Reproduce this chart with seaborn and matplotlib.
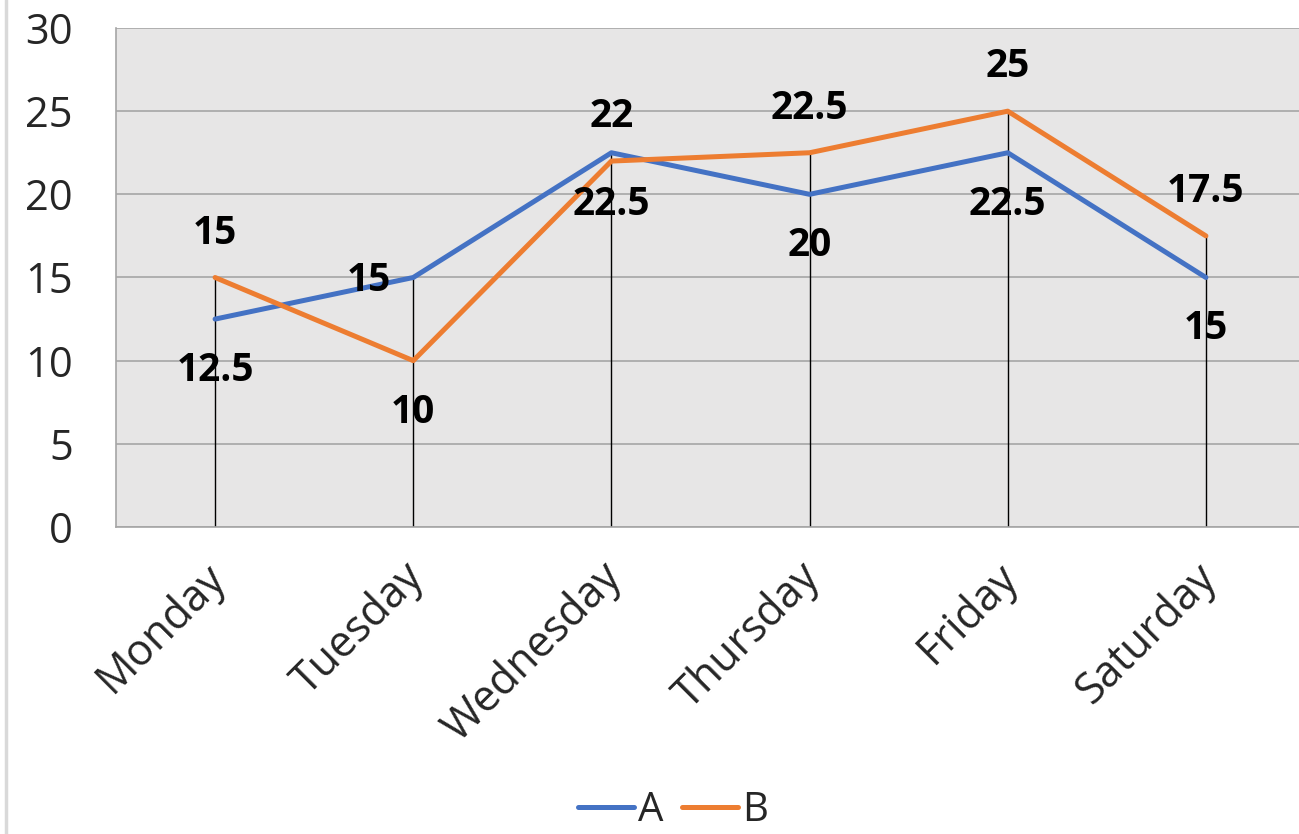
import matplotlib
matplotlib.use("Agg")
import matplotlib.pyplot as plt
import matplotlib.transforms as mtransforms
from matplotlib.lines import Line2D
import seaborn as sns
import pandas as pd

days = ["Monday", "Tuesday", "Wednesday", "Thursday", "Friday", "Saturday"]
series_a = [12.5, 15, 22.5, 20, 22.5, 15]
series_b = [15, 10, 22, 22.5, 25, 17.5]
label_a = ["12.5", "15", "22.5", "20", "22.5", "15"]
label_b = ["15", "10", "22", "22.5", "25", "17.5"]
y_ticks = [0, 5, 10, 15, 20, 25, 30]

# label placement styles
pos_a = ["below", "left", "below", "below", "below", "below"]
pos_b = ["above", "below", "above", "above", "above", "above"]

sns.set_style("white")
plt.rcParams["font.family"] = ["Open Sans", "DejaVu Sans"]

df = pd.DataFrame({
    "day": days * 2,
    "x": list(range(len(days))) * 2,
    "value": series_a + series_b,
    "series": ["A"] * len(days) + ["B"] * len(days),
})

W, H = 1299, 834
fig = plt.figure(figsize=(W / 100, H / 100), dpi=100)
ax = fig.add_axes([116 / W, 1 - 527 / H, (1305 - 116) / W, (527 - 28) / H])
ax.set_facecolor("#e7e6e6")

palette = {"A": "#4472C4", "B": "#ED7D31"}
sns.lineplot(data=df, x="x", y="value", hue="series", palette=palette,
             linewidth=3.6, ax=ax, legend=False, zorder=3,
             solid_capstyle="round", solid_joinstyle="round")

# drop lines (high lines) from 0 to max
for i in range(len(days)):
    ax.plot([i, i], [0, max(series_a[i], series_b[i])], color="black",
            linewidth=1.0, zorder=2)

ax.set_xlim(-0.5, len(days) - 0.5)
ax.set_ylim(0, 30)
ax.set_yticks(y_ticks)
ax.set_yticklabels([str(v) for v in y_ticks], fontsize=30)
ax.set_xticks(range(len(days)))
ax.set_xticklabels(days, fontsize=31, rotation=45, ha="right",
                   rotation_mode="anchor")
ax.tick_params(axis="x", length=0, pad=20)
shift = mtransforms.ScaledTranslation(-12 / 100, 0, fig.dpi_scale_trans)
for lbl in ax.get_xticklabels():
    lbl.set_transform(lbl.get_transform() + shift)
ax.tick_params(axis="y", length=12, width=1.2, color="#a6a6a6", pad=19)
ax.grid(axis="y", color="#a6a6a6", linewidth=1.2, zorder=1)
ax.grid(axis="x", visible=False)
ax.set_axisbelow(True)
ax.set_xlabel("")
ax.set_ylabel("")
for side in ["top", "right"]:
    ax.spines[side].set_visible(False)
ax.spines["left"].set_color("#a6a6a6")
ax.spines["left"].set_linewidth(1.2)
ax.spines["bottom"].set_color("#a6a6a6")
ax.spines["bottom"].set_linewidth(1.2)

offsets = {"below": (0, -37), "above": (0, 32), "left": (-32, -2)}
for vals, labs, poss in [(series_a, label_a, pos_a), (series_b, label_b, pos_b)]:
    for i, (v, t, p) in enumerate(zip(vals, labs, poss)):
        ax.annotate(t, (i, v), xytext=offsets[p], textcoords="offset points",
                    ha="center", va="center", fontsize=28, fontweight="bold",
                    color="black", zorder=5)

handles = [Line2D([0], [0], color=palette["A"], linewidth=3.6, solid_capstyle="round"),
           Line2D([0], [0], color=palette["B"], linewidth=3.6, solid_capstyle="round")]
fig.legend(handles, ["A", "B"], loc="center", bbox_to_anchor=(0.518, 0.028),
           ncol=2, frameon=False, fontsize=29, handlelength=1.4,
           handletextpad=0.1, columnspacing=0.45, borderpad=0)

fig.add_artist(Line2D([0.005, 0.005], [0, 1], color="#d9d9d9", linewidth=2.5,
                      transform=fig.transFigure))

fig.savefig("out.png", dpi=100)
